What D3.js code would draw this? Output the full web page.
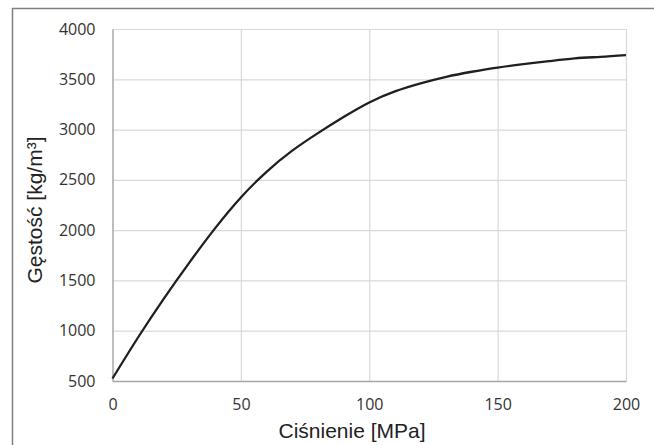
<!DOCTYPE html>
<html lang="pl">
  <head>
    <meta charset="UTF-8" />
    <script src="https://d3js.org/d3.v7.min.js"></script>
    <style>
      body { margin: 0; background: #fff; }
      .tick text { font-family: "Open Sans", sans-serif; font-size: 16px; fill: #333; }
      .title { font-family: "Liberation Sans", Arial, sans-serif; font-size: 21px; fill: #222; }
    </style>
  </head>

  <body>
    <script>
      var width = 654,
        height = 445;

      // pressure [MPa] and density [kg/m3]
      var pressure = [0, 10, 20, 30, 40, 50, 60, 70, 80, 90, 100, 110, 120, 130, 140, 150, 160, 170, 180, 190, 200];
      var density = [525, 935, 1320, 1680, 2020, 2325, 2580, 2790, 2965, 3125, 3270, 3380, 3460, 3525, 3575, 3617, 3650, 3680, 3708, 3723, 3740];
      var xTicks = [0, 50, 100, 150, 200];
      var yTicks = [500, 1000, 1500, 2000, 2500, 3000, 3500, 4000];

      var margin = { left: 112.5, right: 28, top: 29, bottom: 64 };

      var svg = d3
        .select("body")
        .append("svg")
        .attr("width", width)
        .attr("height", height);

      // outer frame of the figure
      svg
        .append("rect")
        .attr("x", 12.5)
        .attr("y", 8.5)
        .attr("width", 800)
        .attr("height", 600)
        .attr("fill", "none")
        .attr("stroke", "#7f7f7f")
        .attr("stroke-width", 1.5);

      var x = d3
        .scaleLinear()
        .domain([0, 200])
        .range([margin.left, width - margin.right]);

      var y = d3
        .scaleLinear()
        .domain([500, 4000])
        .range([height - margin.bottom, margin.top]);

      // gridlines
      svg
        .append("g")
        .attr("transform", "translate(0," + (height - margin.bottom) + ")")
        .call(d3.axisBottom(x).tickValues(xTicks).tickSize(-(y(500) - y(4000))).tickFormat(""))
        .call(function (g) {
          g.select(".domain").remove();
          g.selectAll("line").attr("stroke", "#d9d9d9").attr("stroke-width", 1.2);
        });

      svg
        .append("g")
        .attr("transform", "translate(" + margin.left + ",0)")
        .call(d3.axisLeft(y).tickValues(yTicks).tickSize(-(x(200) - x(0))).tickFormat(""))
        .call(function (g) {
          g.select(".domain").remove();
          g.selectAll("line").attr("stroke", "#d9d9d9").attr("stroke-width", 1.2);
        });

      // axes with labels
      svg
        .append("g")
        .attr("transform", "translate(0," + (height - margin.bottom) + ")")
        .call(d3.axisBottom(x).tickValues(xTicks).tickFormat(d3.format("d")).tickSize(0).tickPadding(18))
        .call(function (g) {
          g.select(".domain").attr("stroke", "#a6a6a6").attr("stroke-width", 1.3);
        });

      svg
        .append("g")
        .attr("transform", "translate(" + margin.left + ",0)")
        .call(d3.axisLeft(y).tickValues(yTicks).tickFormat(d3.format("d")).tickSize(0).tickPadding(17))
        .call(function (g) {
          g.select(".domain").attr("stroke", "#a6a6a6").attr("stroke-width", 1.3);
        });

      var line = d3
        .line()
        .x(function (d, i) {
          return x(pressure[i]);
        })
        .y(function (d) {
          return y(d);
        })
        .curve(d3.curveNatural);

      svg
        .append("path")
        .datum(density)
        .attr("d", line)
        .attr("fill", "none")
        .attr("stroke", "#1f1f1f")
        .attr("stroke-width", 2.3);

      // axis titles
      svg
        .append("text")
        .attr("class", "title")
        .attr("x", 352)
        .attr("y", 438)
        .attr("text-anchor", "middle")
        .text("Ciśnienie [MPa]");

      svg
        .append("text")
        .attr("class", "title")
        .attr("transform", "translate(42,210) rotate(-90)")
        .attr("text-anchor", "middle")
        .text("Gęstość [kg/m³]");
    </script>
  </body>
</html>
